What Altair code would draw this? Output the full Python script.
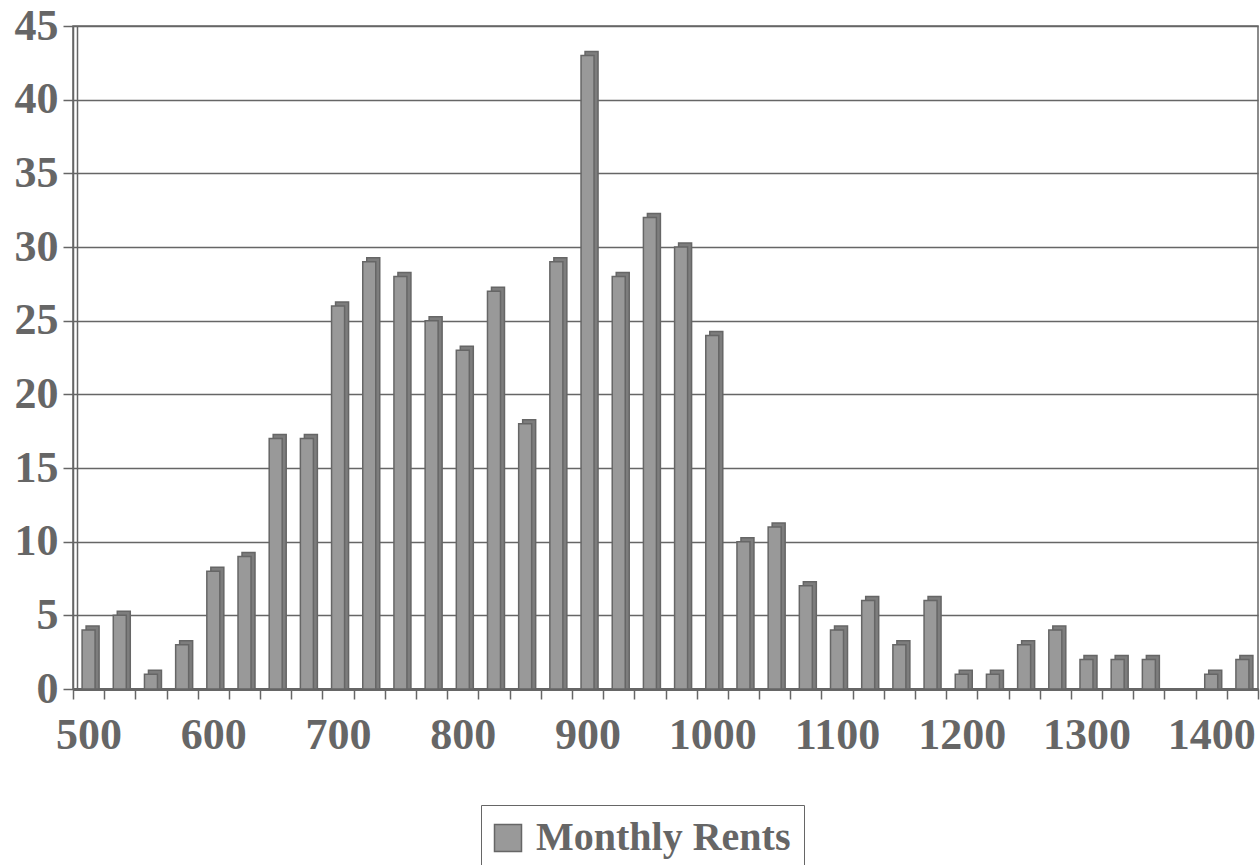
import altair as alt
import pandas as pd

# Rent bins (lower edge, dollars) and number of listings in each bin
rent_bins = [500, 525, 550, 575, 600, 625, 650, 675, 700, 725,
             750, 775, 800, 825, 850, 875, 900, 925, 950, 975,
             1000, 1025, 1050, 1075, 1100, 1125, 1150, 1175, 1200, 1225,
             1250, 1275, 1300, 1325, 1350, 1375, 1400, 1425]
counts = [4, 5, 1, 3, 8, 9, 17, 17, 26, 29,
          28, 25, 23, 27, 18, 29, 43, 28, 32, 30,
          24, 10, 11, 7, 4, 6, 3, 6, 1, 1,
          3, 4, 2, 2, 2, 0, 1, 2]
y_ticks = [0, 5, 10, 15, 20, 25, 30, 35, 40, 45]
series_name = "Monthly Rents"

bin_labels = [str(b) for b in rent_bins]
df = pd.DataFrame({
    "bin": bin_labels,
    "count": counts,
    "series": series_name,
})

GREY_TEXT = "#666666"
FONT = "Liberation Serif"
W, H = 1185, 663

x_enc = alt.X(
    "bin:N",
    sort=bin_labels,
    scale=alt.Scale(domain=bin_labels, paddingInner=0, paddingOuter=0),
    axis=alt.Axis(
        title=None,
        labelAngle=0,
        labelExpr="toNumber(datum.value) % 100 == 0 ? datum.value : ''",
        labelFont=FONT, labelFontSize=44, labelFontWeight="bold",
        labelColor=GREY_TEXT, labelPadding=14,
        tickBand="extent", tickSize=10, tickColor=GREY_TEXT, tickWidth=1.5,
        domainColor=GREY_TEXT, domainWidth=3,
        grid=False,
    ),
)

y_scale = alt.Scale(domain=[0, 45], nice=False)

y_main = alt.Y(
    "count:Q",
    scale=y_scale,
    axis=alt.Axis(
        title=None,
        orient="left",
        values=y_ticks,
        labelFont=FONT, labelFontSize=44, labelFontWeight="bold",
        labelColor=GREY_TEXT, labelPadding=5,
        tickSize=10, tickColor=GREY_TEXT, tickWidth=1.5,
        domainColor=GREY_TEXT, domainWidth=1.5,
        grid=True, gridColor=GREY_TEXT, gridWidth=1.5, gridOpacity=1,
    ),
)

# back wall edge, drawn as a bare axis line just inside the plot frame
y_wall = alt.Y(
    "count:Q",
    scale=y_scale,
    axis=alt.Axis(
        title=None, orient="left", offset=-4,
        labels=False, ticks=False, grid=False,
        domainColor=GREY_TEXT, domainWidth=1.5,
    ),
)

base = alt.Chart(df).transform_filter("datum.count > 0")

# depth face of each column, shifted up and to the right
depth = base.mark_bar(
    width=13, xOffset=4, yOffset=-4,
    fill="#7d7d7d", stroke=GREY_TEXT, strokeWidth=1.5,
).encode(x=x_enc, y=y_wall, y2=alt.datum(0))

# front face of each column
front = base.mark_bar(
    width=13, stroke=GREY_TEXT, strokeWidth=1.5,
).encode(
    x=x_enc,
    y=y_main,
    y2=alt.datum(0),
    color=alt.Color(
        "series:N",
        scale=alt.Scale(domain=[series_name], range=["#999999"]),
        legend=alt.Legend(
            title=None,
            orient="none", legendX=408, legendY=779,
            symbolType="square", symbolSize=729, symbolOffset=-6,
            symbolStrokeColor=GREY_TEXT, symbolStrokeWidth=1.5,
            labelFont=FONT, labelFontSize=40, labelFontWeight="bold",
            labelColor=GREY_TEXT, labelOffset=8, labelLimit=0,
            strokeColor=GREY_TEXT, padding=13,
        ),
    ),
)

chart = (
    alt.layer(depth, front)
    .resolve_axis(y="independent")
    .properties(
        width=W, height=H,
        autosize=alt.AutoSizeParams(type="none"),
        padding={"left": 73, "top": 26, "right": 2, "bottom": 176},
        background="white",
    )
    .configure_view(stroke=GREY_TEXT, strokeWidth=1.5)
)

chart.save("out.html", embed_options={"renderer": "svg", "actions": False})
